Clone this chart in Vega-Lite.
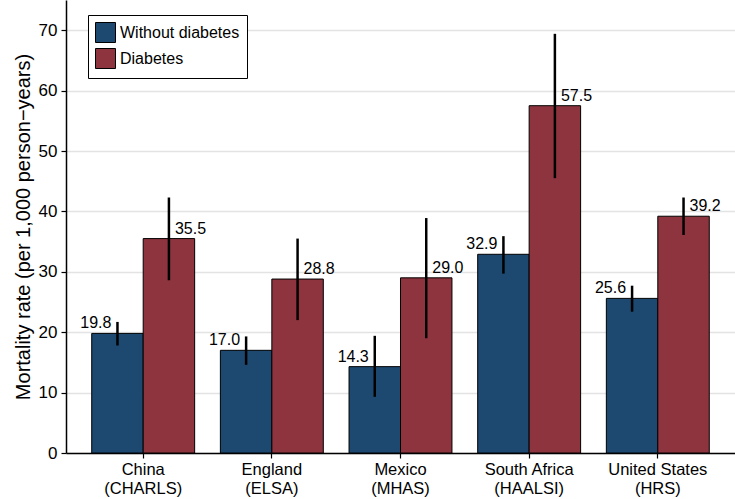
{
  "$schema": "https://vega.github.io/schema/vega-lite/v6.json",
  "width": 669,
  "height": 453,
  "autosize": {"type": "none"},
  "padding": {"left": 66, "top": 0, "right": 0, "bottom": 46},
  "config": {
    "font": "Liberation Sans",
    "view": {"stroke": null},
    "axis": {"labelFont": "Liberation Sans", "titleFont": "Liberation Sans", "labelColor": "#000", "titleColor": "#000"}
  },
  "data": {
    "values": [
      {"country": "China|(CHARLS)", "group": "Without diabetes", "rate": 19.8, "lo": 17.8, "hi": 21.7},
      {"country": "China|(CHARLS)", "group": "Diabetes", "rate": 35.5, "lo": 28.6, "hi": 42.3},
      {"country": "England|(ELSA)", "group": "Without diabetes", "rate": 17.0, "lo": 14.6, "hi": 19.3},
      {"country": "England|(ELSA)", "group": "Diabetes", "rate": 28.8, "lo": 22.0, "hi": 35.5},
      {"country": "Mexico|(MHAS)", "group": "Without diabetes", "rate": 14.3, "lo": 9.3, "hi": 19.4},
      {"country": "Mexico|(MHAS)", "group": "Diabetes", "rate": 29.0, "lo": 19.0, "hi": 38.9},
      {"country": "South Africa|(HAALSI)", "group": "Without diabetes", "rate": 32.9, "lo": 29.7, "hi": 35.9},
      {"country": "South Africa|(HAALSI)", "group": "Diabetes", "rate": 57.5, "lo": 45.5, "hi": 69.4},
      {"country": "United States|(HRS)", "group": "Without diabetes", "rate": 25.6, "lo": 23.4, "hi": 27.7},
      {"country": "United States|(HRS)", "group": "Diabetes", "rate": 39.2, "lo": 36.1, "hi": 42.3}
    ]
  },
  "encoding": {
    "x": {
      "field": "country", "type": "nominal", "sort": null,
      "scale": {"paddingInner": 0.2, "paddingOuter": 0.2},
      "axis": {
        "title": null, "labelAngle": 0, "labelExpr": "split(datum.label, '|')",
        "labelFontSize": 16.5, "labelLineHeight": 19, "labelPadding": 3,
        "domainColor": "#000", "domainWidth": 1.5, "tickColor": "#000", "tickWidth": 1.2, "tickSize": 5
      }
    },
    "xOffset": {
      "field": "group", "type": "nominal",
      "scale": {"domain": ["Without diabetes", "Diabetes"], "paddingInner": 0, "paddingOuter": 0}
    }
  },
  "layer": [
    {
      "mark": {"type": "bar", "stroke": "#000", "strokeWidth": 1},
      "encoding": {
        "y": {
          "field": "rate", "type": "quantitative",
          "scale": {"domain": [0, 75], "nice": false},
          "axis": {
            "title": "Mortality rate (per 1,000 person−years)",
            "values": [0, 10, 20, 30, 40, 50, 60, 70],
            "labelFontSize": 17, "titleFontSize": 20, "titleFontWeight": "normal", "titlePadding": 5,
            "grid": true, "gridColor": "#e3e3e3", "gridWidth": 1.5,
            "domainColor": "#000", "domainWidth": 1.5, "tickColor": "#000", "tickWidth": 1.2, "tickSize": 5,
            "labelPadding": 4
          }
        },
        "color": {
          "field": "group", "type": "nominal",
          "scale": {"domain": ["Without diabetes", "Diabetes"], "range": ["#1d4870", "#8e343e"]},
          "legend": {
            "title": null, "orient": "none", "legendX": 22, "legendY": 15,
            "fillColor": "#fff", "strokeColor": "#000", "padding": 7,
            "symbolType": "square", "symbolSize": 400, "symbolStrokeColor": "#000", "symbolStrokeWidth": 1,
            "symbolOpacity": 1, "labelFontSize": 16, "labelColor": "#000", "rowPadding": 1, "labelOffset": 4
          }
        }
      }
    },
    {
      "mark": {"type": "rule", "color": "#000", "strokeWidth": 2.5},
      "encoding": {
        "y": {"field": "lo", "type": "quantitative"},
        "y2": {"field": "hi"}
      }
    },
    {
      "transform": [{"filter": "datum.group === 'Without diabetes'"}],
      "mark": {"type": "text", "align": "right", "baseline": "bottom", "dx": -6, "dy": -2, "fontSize": 16, "color": "#000"},
      "encoding": {
        "y": {"field": "rate", "type": "quantitative"},
        "text": {"field": "rate", "type": "quantitative", "format": ".1f"}
      }
    },
    {
      "transform": [{"filter": "datum.group === 'Diabetes'"}],
      "mark": {"type": "text", "align": "left", "baseline": "bottom", "dx": 6, "dy": -2, "fontSize": 16, "color": "#000"},
      "encoding": {
        "y": {"field": "rate", "type": "quantitative"},
        "text": {"field": "rate", "type": "quantitative", "format": ".1f"}
      }
    }
  ]
}
